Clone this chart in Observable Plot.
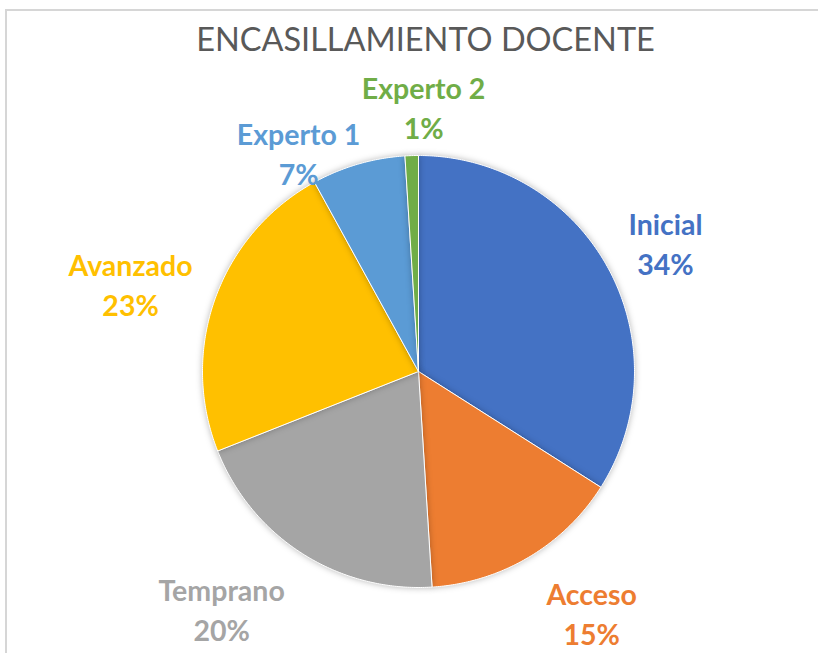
<!DOCTYPE html>
<html>
<head>
<meta charset="utf-8">
<script src="https://cdn.jsdelivr.net/npm/d3@7"></script>
<script src="https://cdn.jsdelivr.net/npm/@observablehq/plot@0.6"></script>
<style>
  html, body { margin: 0; padding: 0; background: #fff; }
  #wrap { position: relative; width: 818px; height: 653px; overflow: hidden; }
  #frame { position: absolute; left: 5px; top: 9px; width: 900px; height: 900px;
           border-top: 2px solid #d6d6d6; border-left: 2px solid #d6d6d6; box-sizing: border-box; }
  #chart { position: absolute; left: 0; top: 0; }
  .slices path { filter: drop-shadow(0 0 3px rgba(0,0,0,0.28)); }
</style>
</head>
<body>
<div id="wrap"><div id="frame"></div><div id="chart"></div></div>
<script>
// ---- data ----
const categories = ["Inicial", "Acceso", "Temprano", "Avanzado", "Experto 1", "Experto 2"];
const values = [34, 15, 20, 23, 7, 1];
const colors = ["#4472C4", "#ED7D31", "#A5A5A5", "#FFC000", "#5B9BD5", "#70AD47"];
const title = "ENCASILLAMIENTO DOCENTE";

// ---- label layout (radius in pie radii, angular nudge in degrees from slice centroid) ----
const labelLayout = {
  "Inicial":   {r: 1.29, da: 1.2},
  "Acceso":    {r: 1.374, da: -5.1},
  "Temprano":  {r: 1.427, da: 7.3},
  "Avanzado":  {r: 1.394, da: -2.8},
  "Experto 1": {r: 1.156, da: -12.5},
  "Experto 2": {r: 1.227, da: 2.9}
};

const W = 818, H = 653, CX = 418, CY = 371, R = 216;

const data = categories.map((c, i) => ({name: c, value: values[i]}));
const total = d3.sum(values);
const arcs = d3.pie().sort(null).value(d => d.value)(data);

// slice polygons in unit-radius coordinates (y up)
const pts = [];
for (const a of arcs) {
  const n = Math.max(2, Math.ceil((a.endAngle - a.startAngle) / (Math.PI / 360)));
  pts.push({name: a.data.name, x: 0, y: 0});
  for (let k = 0; k <= n; k++) {
    const t = a.startAngle + (a.endAngle - a.startAngle) * k / n;
    pts.push({name: a.data.name, x: Math.sin(t), y: Math.cos(t)});
  }
  pts.push({name: a.data.name, x: 0, y: 0});
}

const labels = arcs.map(a => {
  const L = labelLayout[a.data.name];
  const mid = (a.startAngle + a.endAngle) / 2 + L.da * Math.PI / 180;
  return {
    name: a.data.name,
    x: L.r * Math.sin(mid),
    y: L.r * Math.cos(mid),
    text: a.data.name + "\n" + Math.round(a.data.value / total * 100) + "%"
  };
});

const plot = Plot.plot({
  width: W, height: H,
  margin: 0,
  x: {domain: [-CX / R, (W - CX) / R], range: [0, W], axis: null},
  y: {domain: [-(H - CY) / R, CY / R], range: [H, 0], axis: null},
  color: {domain: categories, range: colors},
  style: {fontFamily: "Lato, 'Open Sans', sans-serif", background: "transparent", overflow: "visible"},
  marks: [
    Plot.line(pts, {x: "x", y: "y", z: "name", fill: "name", stroke: "#ffffff", strokeWidth: 1, curve: "linear"}),
    Plot.text(labels, {x: "x", y: "y", text: "text", fill: "name", fontSize: 28.5, fontWeight: 700, lineHeight: 1.4, textAnchor: "middle"}),
    Plot.text([title], {frameAnchor: "top", text: d => d, dy: 27, fontSize: 32.5, fontWeight: 400, fill: "#595959", dx: 16})
  ]
});
document.getElementById("chart").appendChild(plot);
document.querySelectorAll("#chart g[aria-label='line']").forEach(g => g.classList.add("slices"));
</script>
</body>
</html>
